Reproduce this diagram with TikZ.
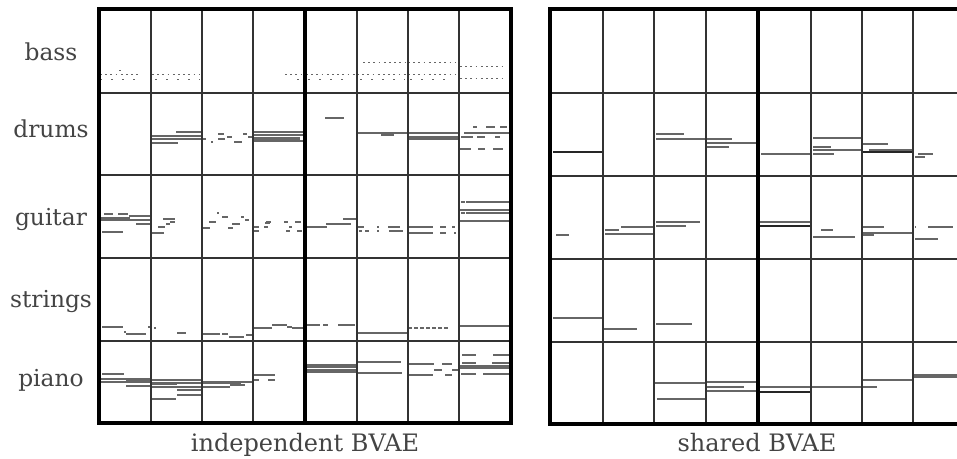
\documentclass[tikz,border=0pt]{standalone}
\usepackage{fontspec}
\setmainfont{DejaVu Serif}
\definecolor{gridc}{HTML}{333333}
\definecolor{notec}{HTML}{666666}
\definecolor{txtc}{HTML}{444444}
\begin{document}
\begin{tikzpicture}[x=0.75pt,y=-0.75pt,
  gridline/.style={draw=gridc,line width=0.8pt},
  frameline/.style={draw=black,line width=2.6pt},
  note/.style={draw=notec,line width=0.8pt},
  darknote/.style={draw=black!85,line width=0.9pt},
  dotnote/.style={draw=notec,line width=0.7pt,dash pattern=on 1.3pt off 2.6pt},
  sparsenote/.style={draw=notec,line width=0.7pt,dash pattern=on 1.3pt off 7pt},
  lab/.style={text=txtc,font=\fontsize{17.5}{20}\selectfont,anchor=base,inner sep=0pt},
  captext/.style={text=txtc,font=\fontsize{18}{21}\selectfont,anchor=base,inner sep=0pt}]
\useasboundingbox (0,0) rectangle (957,458);
\clip (0,0) rectangle (957,458);
\fill[white] (0,0) rectangle (957,458);

% ---------- labels ----------
\node[lab] (lbass) at (51,60) {bass};
\node[lab] (ldrums) at (51,137) {drums};
\node[lab] (lguitar) at (51,225) {guitar};
\node[lab] (lstrings) at (51,307) {strings};
\node[lab] (lpiano) at (51,386) {piano};
\node[captext] (cind) at (305,451) {independent BVAE};
\node[captext] (cshr) at (757,451) {shared BVAE};

% ---------- independent BVAE notes ----------
% bass (dotted)
\foreach \y/\a/\b in {74/100/140,74/152/200,74/285/304,74/306/357,74/357/408,74/408/455,62/363/405,62/408/456,66/460/506,78/460/506}
  \draw[dotnote] (\a,\y) -- (\b,\y);
\foreach \y/\a/\b in {79/100/136,79/155/200,79/297/300,79/308/352,79/360/405,79/410/452,70/119/121}
  \draw[sparsenote] (\a,\y) -- (\b,\y);
% drums
\foreach \y/\a/\b in {132/176/202,136/151/202,139/151/202,143/151/178,
  134/218/224,134/243/247,137/227/232,137/248/252,139/202/206,139/218/225,142/211/213,142/234/242,
  132/253/305,135/253/305,138/253/300,139/253/300,141/253/305,
  118/325/344,133/357/408,135/381/394,
  133/408/459,137/408/459,139/408/459,
  127/473/477,127/486/495,127/500/507,133/464/478,133/478/511,137/461/473,137/477/485,137/495/500,149/460/471,149/478/485,149/493/503}
  \draw[note] (\a,\y) -- (\b,\y);
% guitar
\foreach \y/\a/\b in {214/104/113,214/118/128,216/129/151,218/100/130,220/100/151,224/136/151,232/102/123,
  219/163/175,222/170/175,224/166/170,227/158/165,233/152/164,
  213/217/219,217/222/228,217/241/244,220/245/249,222/209/216,224/232/240,228/202/210,228/228/233,
  222/266/271,222/284/288,222/295/301,223/265/270,227/254/259,227/264/268,227/289/292,231/254/259,231/286/290,231/297/302,
  219/343/357,224/326/351,227/305/327,
  227/358/364,227/377/379,227/388/400,231/359/362,231/365/369,231/377/379,231/389/403,
  227/408/433,227/440/446,227/452/455,233/408/433,233/440/446,233/454/456,
  202/461/465,202/466/511,210/459/511,213/461/465,213/466/511,221/459/511}
  \draw[note] (\a,\y) -- (\b,\y);
% strings
\foreach \y/\a/\b in {327/102/123,332/124/126,334/126/146,327/148/151,
  328/154/156,333/177/186,
  334/203/220,334/222/228,337/229/244,335/246/252,
  328/253/272,325/272/287,327/287/292,328/292/305,
  325/307/320,325/323/328,325/338/355,
  333/357/408,326/459/511}
  \draw[note] (\a,\y) -- (\b,\y);
\draw[note,dash pattern=on 3pt off 1.5pt] (408,328) -- (450,328);
% piano
\foreach \y/\a/\b in {374/102/124,379/99/151,381/126/150,382/99/151,386/126/151,
  380/151/202,383/151/202,384/151/177,387/151/202,390/177/202,395/177/202,399/151/176,
  382/202/253,383/202/241,385/230/245,387/202/230,
  375/253/275,380/253/259,380/268/275,
  365/305/357,367/305/357,370/305/357,372/305/357,
  362/357/401,373/357/402,
  364/408/434,364/442/452,370/434/442,375/409/433,375/445/452,370/452/459,
  355/462/476,355/493/511,363/462/476,363/492/511,366/459/511,368/459/511,374/461/476,374/483/511}
  \draw[note] (\a,\y) -- (\b,\y);

% ---------- shared BVAE notes ----------
\foreach \y/\a/\b in {134/656/684,139/656/706,139/707/732,143/706/758,147/707/729,
  154/761/810,138/813/862,147/813/831,150/813/862,154/813/834,
  144/863/888,150/869/913,154/918/933,157/915/925,
  235/556/569,227/621/654,230/605/619,234/605/654,222/656/700,226/656/686,
  222/758/811,230/821/833,237/813/855,227/863/884,233/862/913,235/863/874,
  227/915/916,227/928/953,239/915/938,
  318/553/603,329/603/637,324/656/692,
  383/654/706,399/657/706,382/706/758,387/707/744,391/706/758,
  387/758/811,387/811/877,380/862/913,375/913/960,377/913/960}
  \draw[note] (\a,\y) -- (\b,\y);
\foreach \y/\a/\b in {152/553/603,152/862/913,226/758/811,392/758/811}
  \draw[darknote] (\a,\y) -- (\b,\y);

% ---------- grids ----------
% independent
\foreach \x in {151,202,253,357,408,459}
  \draw[gridline] (\x,9) -- (\x,423);
\foreach \y in {93,175,258,341}
  \draw[gridline] (99,\y) -- (511,\y);
\draw[frameline] (99,9) rectangle (511,423);
\draw[frameline] (305,9) -- (305,423);
% shared
\foreach \x in {603,654,706,811,862,913}
  \draw[gridline] (\x,9) -- (\x,424);
\foreach \y in {93,176,259,342}
  \draw[gridline] (550,\y) -- (965,\y);
\draw[frameline] (550,9) rectangle (966,424);
\draw[frameline] (758,9) -- (758,424);
\end{tikzpicture}
\end{document}
